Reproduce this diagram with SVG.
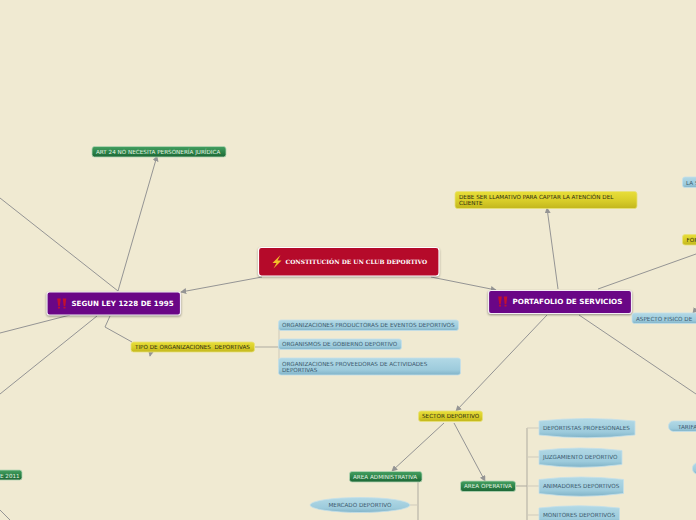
<svg xmlns="http://www.w3.org/2000/svg" width="696" height="520" viewBox="0 0 696 520">
<defs>
<linearGradient id="gG" x1="0" y1="0" x2="0" y2="1"><stop offset="0" stop-color="#45a062"/><stop offset="0.5" stop-color="#2d8549"/><stop offset="1" stop-color="#1c6635"/></linearGradient>
<linearGradient id="gY" x1="0" y1="0" x2="0" y2="1"><stop offset="0" stop-color="#e8de3a"/><stop offset="0.55" stop-color="#d8cd28"/><stop offset="1" stop-color="#c2b61c"/></linearGradient>
<linearGradient id="gB" x1="0" y1="0" x2="0" y2="1"><stop offset="0" stop-color="#b2d9e6"/><stop offset="0.7" stop-color="#9dcbdc"/><stop offset="1" stop-color="#80b3c8"/></linearGradient>
<marker id="arr" viewBox="0 0 8 8" refX="7" refY="4" markerWidth="6" markerHeight="6" orient="auto" markerUnits="userSpaceOnUse"><path d="M0 0L8 4L0 8Z" fill="#949494"/></marker>
<path id="bang" d="M-1.800 -5L1.800 -5L0.800 2.500L-0.800 2.500ZM-1 3.300L1 3.300L1 5L-1 5Z" fill="#c01030"/>
</defs>
<style>
text{font-family:"DejaVu Sans","Liberation Sans",sans-serif;font-size:5.65px;white-space:pre}
.c{fill:none;stroke:#949494;stroke-width:1}
.t{fill:none;stroke:#cfcabb;stroke-width:1}
.tk{fill:none;stroke:#aeaba0;stroke-width:1}
.g rect{fill:url(#gG);stroke:#b5d5b5;stroke-width:.8}
.g text{fill:#e4f1e2}
.y rect{fill:url(#gY);stroke:#e8e17a;stroke-width:.8}
.y text{fill:#2e2c10}
.b rect,.b ellipse,.b path{fill:url(#gB);stroke:#c4e0ea;stroke-width:.8}
.b text{fill:#3c5a6e}
.p rect{fill:#6a0686;stroke:#f4eef4;stroke-width:1.200;filter:drop-shadow(0 1px 1px #0006)}
.p text{fill:#fff;font-size:7.100px;font-weight:bold}
</style>
<rect width="696" height="520" fill="#f0ead2"/>
<g id="connectors">
<path class="c" d="M262 277L181 292" marker-end="url(#arr)"/>
<path class="c" d="M431 277L496 290" marker-end="url(#arr)"/>
<path class="c" d="M118 291L157 156" marker-end="url(#arr)"/>
<path class="c" d="M118 291L0 198"/>
<path class="c" d="M70 315L0 333"/>
<path class="c" d="M97 316L0 394"/>
<path class="c" d="M110 316L105 327L132 342"/>
<path class="c" d="M151 351L150 356" marker-end="url(#arr)"/>
<path class="c" d="M558 289L547 208" marker-end="url(#arr)"/>
<path class="c" d="M598 289L696 254"/>
<path class="c" d="M547 315L456 411" marker-end="url(#arr)"/>
<path class="c" d="M579 315L696 394"/>
<path class="c" d="M696 309L693 313" marker-end="url(#arr)"/>
<path class="c" d="M444 423L392 471" marker-end="url(#arr)"/>
<path class="c" d="M454 423L485 481" marker-end="url(#arr)"/>
<path class="c" d="M0 510L10 520"/>
<path class="tk" d="M255 347L279 347"/>
<path class="t" d="M279 325L279 367M279 325L290 325M279 344L290 344M279 367L290 367"/>
<path class="tk" d="M418 482L418 520"/>
<path class="t" d="M410 505L418 505"/>
<path class="tk" d="M516 486L527 486"/>
<path class="tk" d="M527 428L527 520"/>
<path class="t" d="M527 428L539 428M527 457L539 457M527 486L539 486M527 515L539 515"/>
</g>
<g id="n-root">
<rect x="258.500" y="247.500" width="180.500" height="28.500" rx="3" fill="#b50a2a" stroke="#fff" stroke-width="1.200" style="filter:drop-shadow(0 1px 1px #0005)"/>
<path d="M280.500 255L272.500 263L276.500 263L273.500 268.500L281.500 260.500L277.500 260.500Z" fill="#f3c02a"/>
<text x="285.500" y="264" style="font-family:'DejaVu Serif','Liberation Serif',serif;font-weight:bold;font-size:5.900px" fill="#fff">CONSTITUCIÓN DE UN CLUB DEPORTIVO</text>
</g>
<g id="n-ley" class="p">
<rect x="47" y="292" width="133.500" height="23" rx="2.500"/>
<use href="#bang" x="59" y="303.500"/><use href="#bang" x="64.500" y="303.500"/>
<text x="71.500" y="306">SEGUN LEY 1228 DE 1995</text>
</g>
<g id="n-portafolio" class="p">
<rect x="488.500" y="290.500" width="143" height="23" rx="2.500"/>
<use href="#bang" x="500" y="301.500"/><use href="#bang" x="505.500" y="301.500"/>
<text x="512.500" y="304" style="font-size:7.200px">PORTAFOLIO DE SERVICIOS</text>
</g>
<g id="n-art24" class="g"><rect x="92" y="146.500" width="134" height="10.500" rx="2.500"/><text x="96" y="154">ART 24 NO NECESITA PERSONERÍA JURÍDICA</text></g>
<g id="n-tipo" class="y"><rect x="131" y="342" width="123.500" height="10" rx="2.500"/><text x="135" y="349">TIPO DE ORGANIZACIONES  DEPORTIVAS</text></g>
<g id="n-o1" class="b"><rect x="278.500" y="320" width="180" height="10.500" rx="2.500"/><text x="282" y="327.300">ORGANIZACIONES PRODUCTORAS DE EVENTOS DEPORTIVOS</text></g>
<g id="n-o2" class="b"><rect x="278.500" y="339" width="123" height="10.500" rx="2.500"/><text x="282" y="346.300">ORGANISMOS DE GOBIERNO DEPORTIVO</text></g>
<g id="n-o3" class="b"><rect x="278.500" y="358" width="182" height="17" rx="2.500"/><text x="282" y="365.500">ORGANIZACIONES PROVEEDORAS DE ACTIVIDADES</text><text x="282" y="372">DEPORTIVAS</text></g>
<g id="n-debe" class="y"><rect x="455" y="191.500" width="182" height="17" rx="2.500"/><text x="459" y="199">DEBE SER LLAMATIVO PARA CAPTAR LA ATENCIÓN DEL</text><text x="459" y="205">CLIENTE</text></g>
<g id="n-la" class="b"><rect x="682.500" y="177" width="20" height="10.500" rx="2.500"/><text x="686" y="184.500">LA S</text></g>
<g id="n-for" class="y"><rect x="682.500" y="234.500" width="20" height="10.500" rx="2.500"/><text x="686.500" y="242">FOR</text></g>
<g id="n-aspecto" class="b"><rect x="632" y="313" width="80" height="10.500" rx="2.500"/><text x="636" y="320.500">ASPECTO FISICO DE</text></g>
<g id="n-sector" class="y"><rect x="418.500" y="411" width="64" height="10.500" rx="2.500"/><text x="422" y="418.300">SECTOR DEPORTIVO</text></g>
<g id="n-admin" class="g"><rect x="349.500" y="471.500" width="72.500" height="10.500" rx="2.500"/><text x="353" y="479">AREA ADMINISTRATIVA</text></g>
<g id="n-oper" class="g"><rect x="460.500" y="481" width="55" height="10.500" rx="2.500"/><text x="464" y="488">AREA OPERATIVA</text></g>
<g id="n-mercado" class="b"><ellipse cx="360" cy="505" rx="50" ry="7.500"/><text x="360" y="507" text-anchor="middle">MERCADO DEPORTIVO</text></g>
<g id="n-d1" class="b"><path d="M539 421Q587 416 635 421L635 435Q587 440.500 539 435Z"/><text x="543" y="430">DEPORTISTAS PROFESIONALES</text></g>
<g id="n-d2" class="b"><path d="M539 450.500Q580 445.500 622 450.500L622 464.500Q580 470 539 464.500Z"/><text x="543" y="459.300">JUZGAMIENTO DEPORTIVO</text></g>
<g id="n-d3" class="b"><path d="M539 479.500Q581 474.500 623.500 479.500L623.500 493.500Q581 499 539 493.500Z"/><text x="543" y="488.300">ANIMADORES DEPORTIVOS</text></g>
<g id="n-d4" class="b"><path d="M539 508Q579 503.500 619.500 508L619.500 524L539 524Z"/><text x="543" y="517">MONITORES DEPORTIVOS</text></g>
<g id="n-tarifa" class="b"><rect x="668.500" y="421" width="40" height="10.500" rx="5"/><text x="678" y="428.500">TARIFA</text></g>
<g id="n-circ" class="b"><rect x="692.500" y="463" width="20" height="11" rx="5"/></g>
<g id="n-2011" class="g"><rect x="-30" y="470" width="52" height="10" rx="2.500"/><text x="0" y="477.500">E 2011</text></g>
</svg>
